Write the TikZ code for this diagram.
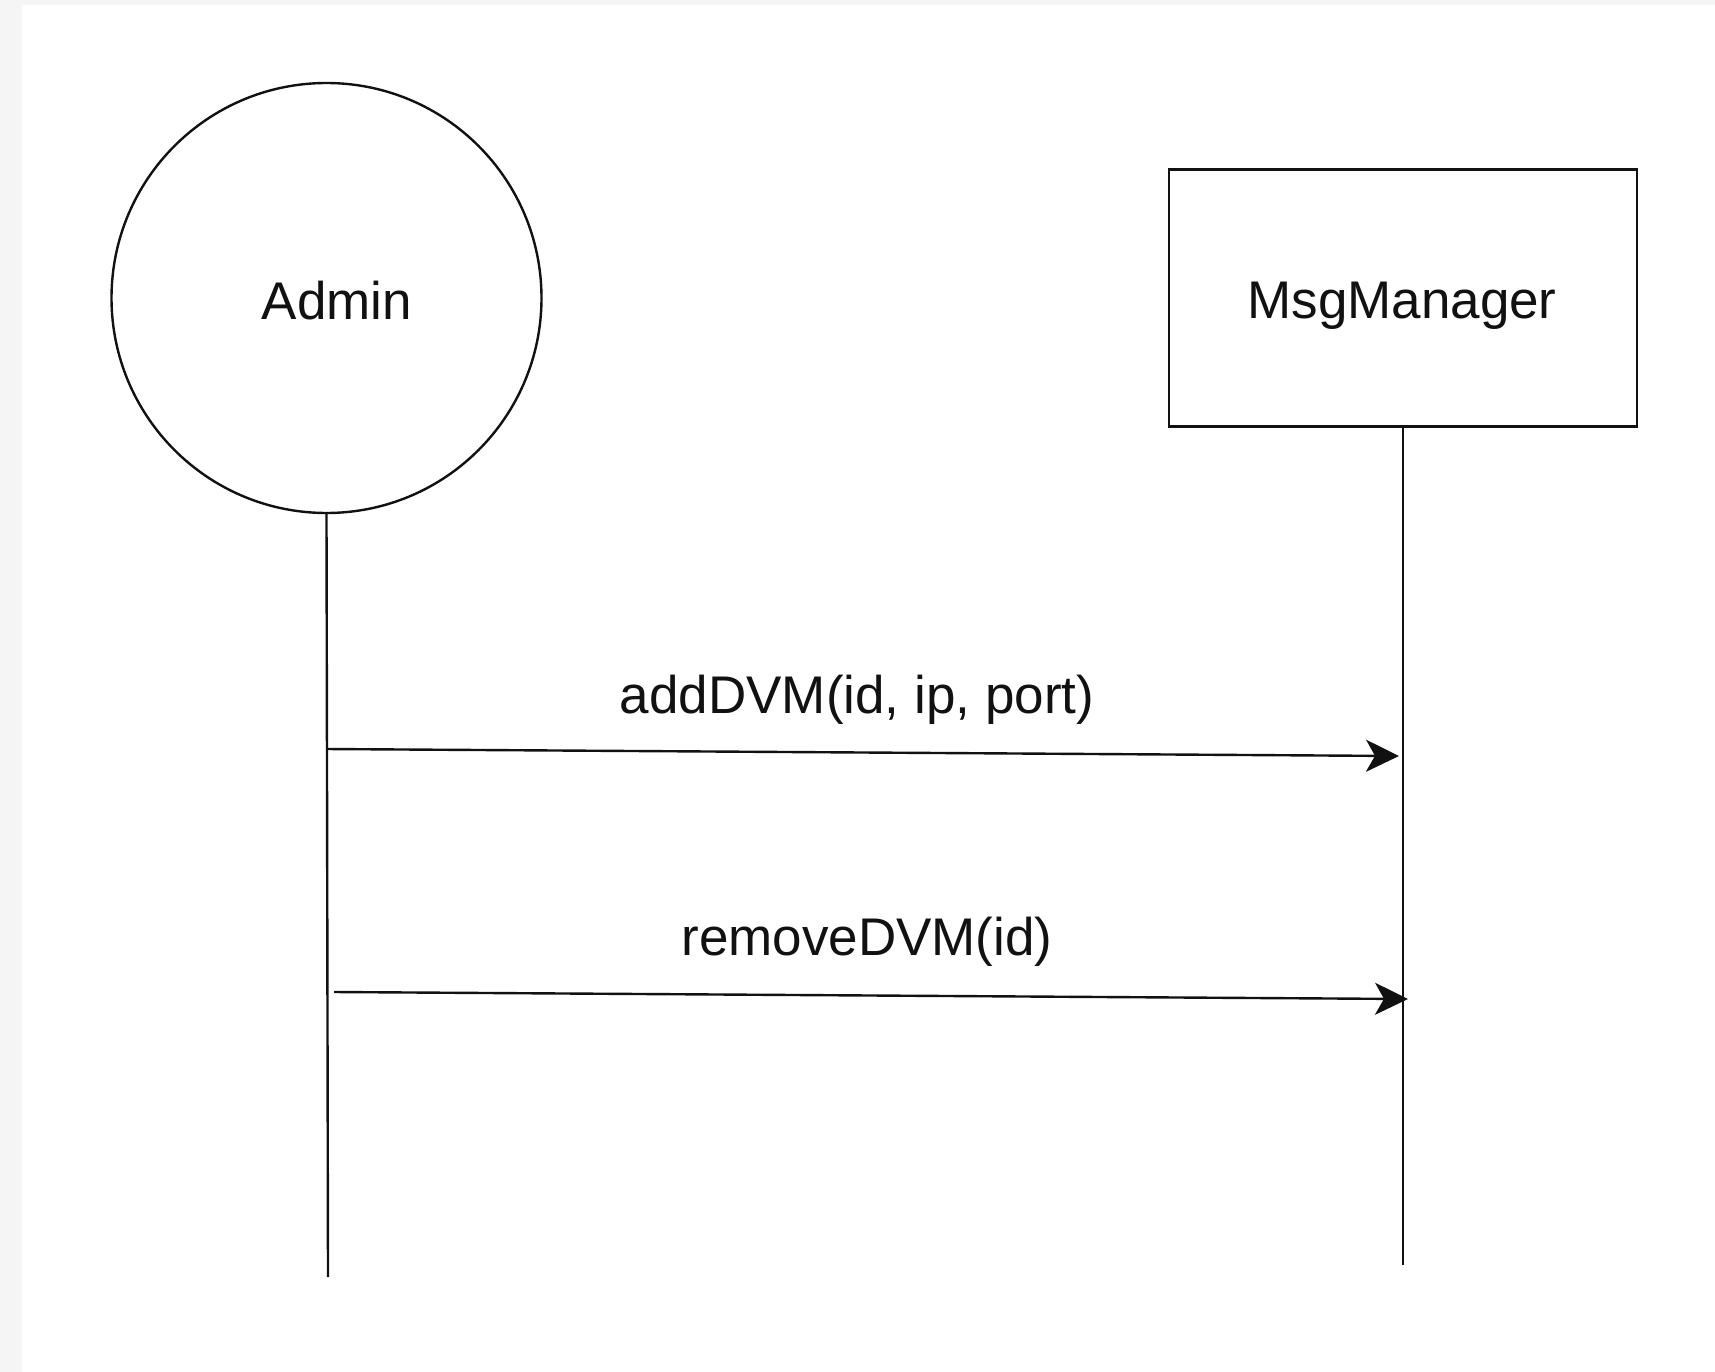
\documentclass[tikz,border=0pt]{standalone}
\usepackage{fontspec}
\setmainfont{Liberation Sans}
\usetikzlibrary{arrows.meta}
\definecolor{edgegray}{HTML}{F5F5F5}
\definecolor{ink}{HTML}{111111}
\begin{document}
\begin{tikzpicture}[x=1pt,y=-1pt,
  lbl/.style={font=\fontsize{53}{60}\selectfont, text=ink},
  actor/.style={draw=ink, line width=2.4pt, circle, minimum size=430pt, inner sep=0pt},
  objbox/.style={draw=ink, line width=2.4pt, rectangle, minimum width=468pt, minimum height=257pt, inner sep=0pt},
  lifeline/.style={draw=ink, line width=2.4pt},
  msg/.style={draw=ink, line width=2.4pt, -{Stealth[length=33pt,width=32pt,inset=9pt]}}]
\fill[edgegray] (0,0) rectangle (1715,1372);
\fill[white] (22,5) rectangle (1715,1372);
\useasboundingbox (0,0) rectangle (1715,1372);
\node[actor] (admin) at (326.5,298) {};
\node[lbl] (admintxt) at (337,301) {Admin};
\node[objbox] (mgr) at (1403,298) {};
\node[lbl] (mgrtxt) at (1402,306) {MsgManager};
\coordinate (aend) at (328,1277);
\coordinate (mend) at (1403,1265);
\draw[lifeline] (admin.south) -- (aend);
\draw[lifeline] (mgr.south) -- (mend);
\coordinate (a1) at (326,749);
\coordinate (m1) at (1399,756);
\coordinate (a2) at (334,992);
\coordinate (m2) at (1408,999);
\draw[msg] (a1) -- (m1);
\draw[msg] (a2) -- (m2);
\node[lbl] (l1) at (857,700) {addDVM(id, ip, port)};
\node[lbl] (l2) at (867,942) {removeDVM(id)};
\end{tikzpicture}
\end{document}
